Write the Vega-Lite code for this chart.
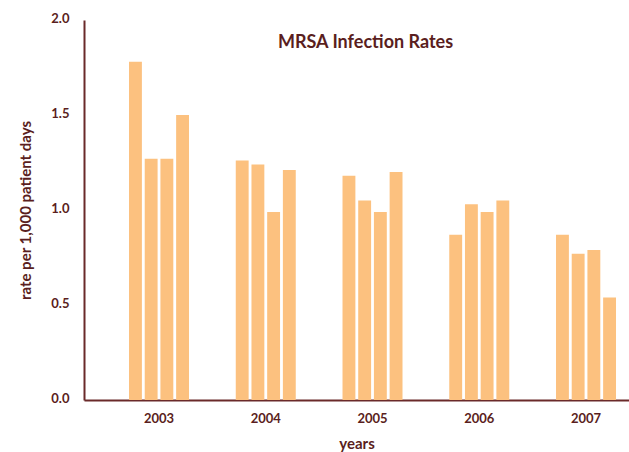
{
  "$schema": "https://vega.github.io/schema/vega-lite/v6.json",
  "width": 545,
  "height": 380,
  "autosize": {"type": "none"},
  "padding": {"left": 84, "top": 20, "right": 0, "bottom": 52},
  "background": "white",
  "data": {
    "values": [
      {"year": "2003", "quarter": "Q1", "rate": 1.78},
      {"year": "2003", "quarter": "Q2", "rate": 1.27},
      {"year": "2003", "quarter": "Q3", "rate": 1.27},
      {"year": "2003", "quarter": "Q4", "rate": 1.50},
      {"year": "2004", "quarter": "Q1", "rate": 1.26},
      {"year": "2004", "quarter": "Q2", "rate": 1.24},
      {"year": "2004", "quarter": "Q3", "rate": 0.99},
      {"year": "2004", "quarter": "Q4", "rate": 1.21},
      {"year": "2005", "quarter": "Q1", "rate": 1.18},
      {"year": "2005", "quarter": "Q2", "rate": 1.05},
      {"year": "2005", "quarter": "Q3", "rate": 0.99},
      {"year": "2005", "quarter": "Q4", "rate": 1.20},
      {"year": "2006", "quarter": "Q1", "rate": 0.87},
      {"year": "2006", "quarter": "Q2", "rate": 1.03},
      {"year": "2006", "quarter": "Q3", "rate": 0.99},
      {"year": "2006", "quarter": "Q4", "rate": 1.05},
      {"year": "2007", "quarter": "Q1", "rate": 0.87},
      {"year": "2007", "quarter": "Q2", "rate": 0.77},
      {"year": "2007", "quarter": "Q3", "rate": 0.79},
      {"year": "2007", "quarter": "Q4", "rate": 0.54}
    ]
  },
  "layer": [
    {
      "mark": {"type": "bar", "color": "#fcc17f"},
      "encoding": {
        "x": {
          "field": "year",
          "type": "nominal",
          "scale": {"paddingInner": 0.438, "paddingOuter": 0.2717, "align": 0.776},
          "axis": {
            "title": "years",
            "labelAngle": 0,
            "ticks": false,
            "grid": false,
            "domainColor": "#6a2a2a",
            "domainWidth": 2,
            "labelFont": "Lato",
            "labelFontSize": 13,
            "labelFontWeight": "bold",
            "labelColor": "#5a1e20",
            "labelPadding": 12,
            "titleFont": "Lato",
            "titleFontSize": 15,
            "titleFontWeight": "bold",
            "titleColor": "#5a1e20",
            "titlePadding": 11
          }
        },
        "xOffset": {
          "field": "quarter",
          "type": "nominal",
          "scale": {"paddingInner": 0.18, "paddingOuter": 0}
        },
        "y": {
          "field": "rate",
          "type": "quantitative",
          "scale": {"domain": [0, 2]},
          "axis": {
            "title": "rate per 1,000 patient days",
            "values": [0, 0.5, 1, 1.5, 2],
            "format": ".1f",
            "ticks": false,
            "grid": false,
            "domainColor": "#6a2a2a",
            "domainWidth": 2,
            "labelFont": "Lato",
            "labelFontSize": 13,
            "labelFontWeight": "bold",
            "labelColor": "#5a1e20",
            "labelPadding": 15,
            "labelOffset": -2,
            "titleFont": "Lato",
            "titleFontSize": 15,
            "titleFontWeight": "bold",
            "titleColor": "#5a1e20",
            "titlePadding": 17
          }
        }
      }
    },
    {
      "data": {"values": [{"title": "MRSA Infection Rates"}]},
      "mark": {
        "type": "text",
        "font": "Lato",
        "fontSize": 18,
        "fontWeight": "bold",
        "color": "#5a1e20",
        "align": "center",
        "baseline": "middle",
        "dx": -7
      },
      "encoding": {
        "x": {"datum": "2005", "type": "nominal"},
        "y": {"datum": 1.88, "type": "quantitative"},
        "text": {"field": "title"}
      }
    }
  ],
  "config": {"view": {"stroke": null}}
}
